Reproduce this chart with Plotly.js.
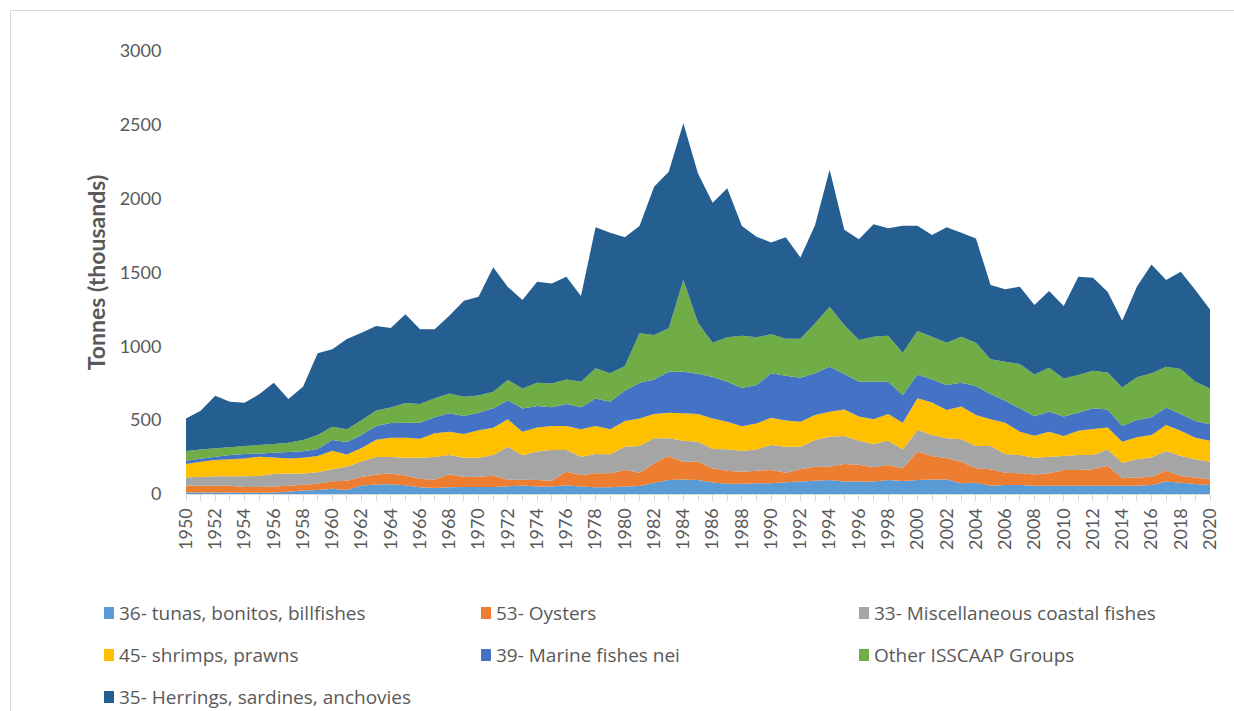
<!DOCTYPE html>
<html>
<head>
<meta charset="utf-8">
<script src="https://cdn.plot.ly/plotly-3.0.1.min.js"></script>
<style>
  html, body { margin: 0; padding: 0; background: #ffffff; }
  #chart { width: 1234px; height: 711px; position: absolute; left: 0; top: 0; }
  #frame { position: absolute; left: 10px; top: 10px; width: 1240px; height: 720px;
           border-left: 1px solid #d9d9d9; border-top: 1px solid #d9d9d9; pointer-events: none; }
</style>
</head>
<body>
<div id="chart"></div>
<div id="frame"></div>
<script>
const years = [];
for (let y = 1950; y <= 2020; y++) years.push(y);

const seriesNames = [
  "36- tunas, bonitos, billfishes",
  "53- Oysters",
  "33- Miscellaneous coastal fishes",
  "45- shrimps, prawns",
  "39- Marine fishes nei",
  "Other ISSCAAP Groups",
  "35- Herrings, sardines, anchovies"
];

const tunas = [
  11,11,11,11,9,9,11,16,23,27,
  36,27,58,64,66,60,45,40,45,47,
  48,48,52,57,50,50,59,50,45,45,
  50,54,77,95,99,95,78,70,70,72,
  72,79,84,90,95,84,84,84,95,88,
  95,99,99,72,77,56,61,61,56,56,
  56,56,56,56,56,56,61,84,77,68,61
];
const oysters = [
  45,45,45,45,38,38,39,40,40,43,
  50,63,57,68,72,66,56,59,88,68,
  69,76,45,40,45,40,92,79,95,95,
  113,90,131,162,120,124,96,87,81,86,
  91,65,83,95,90,119,114,97,101,86,
  192,158,143,147,97,111,83,79,76,84,
  107,107,111,136,50,55,56,74,45,43,38
];
const coastal = [
  57,59,64,64,73,75,85,82,75,77,
  81,95,105,118,112,119,144,151,131,130,
  128,140,223,165,192,208,147,124,131,129,
  157,181,169,120,142,135,131,146,141,144,
  169,176,153,181,203,190,162,158,165,128,
  146,143,135,151,151,158,127,124,113,113,
  94,101,97,110,106,124,131,133,135,124,120
];
const shrimps = [
  90,104,110,115,121,131,113,103,108,110,
  126,83,92,118,131,136,129,161,157,161,
  186,184,186,160,164,162,162,185,189,169,
  174,187,165,174,185,188,207,187,166,176,
  185,177,170,169,169,180,164,167,181,181,
  215,219,192,222,210,181,212,158,149,169,
  136,165,176,149,142,149,151,176,172,146,142
];
const marine = [
  23,20,23,29,30,22,32,43,43,48,
  73,84,88,93,99,102,109,109,125,122,
  120,132,128,157,145,127,149,149,186,187,
  206,242,234,277,282,273,280,270,260,260,
  300,304,298,282,305,240,237,255,219,187,
  162,157,169,162,196,171,149,158,132,135,
  131,122,140,122,106,117,120,118,113,113,111
];
const other = [
  65,63,56,52,54,57,59,63,77,94,
  90,86,100,105,105,133,126,128,135,131,
  116,113,138,136,158,162,167,174,205,192,
  167,334,301,294,621,345,233,301,354,323,
  264,251,264,339,406,331,282,304,311,287,
  294,289,287,311,294,235,264,300,284,298,
  259,255,255,249,262,289,298,277,304,267,243
];
const herrings = [
  221,262,357,309,293,343,415,296,361,554,
  524,612,592,571,539,602,506,467,526,650,
  669,842,630,599,684,677,696,580,955,952,
  871,727,1004,1061,1061,1011,948,1009,743,681,
  623,686,550,664,927,646,682,761,727,860,
  713,689,781,704,706,503,490,524,470,520,
  490,666,630,548,452,614,738,587,659,620,535
];

const seriesValues = [tunas, oysters, coastal, shrimps, marine, other, herrings];
const colors = ["#5B9BD5", "#ED7D31", "#A5A5A5", "#FFC000", "#4472C4", "#70AD47", "#255E91"];

const traces = seriesValues.map((vals, i) => ({
  type: "scatter",
  x: years,
  y: vals,
  name: seriesNames[i],
  stackgroup: "one",
  mode: "none",
  fillcolor: colors[i],
  line: { width: 0 },
  hoverinfo: "skip",
  showlegend: false
}));

// Plot area geometry in pixels
const L = 186, R = 1210, T = 51, B = 494;
const W = 1234, H = 711;
const px = v => (v - L) / (R - L);
const py = v => (B - v) / (B - T);

const legendCols = [104, 481, 859];
const legendRows = [613, 655, 697];
const shapes = [];
const annotations = [];
seriesNames.forEach((name, i) => {
  const col = i % 3, row = Math.floor(i / 3);
  const sx = legendCols[col], sy = legendRows[row];
  shapes.push({
    type: "rect", xref: "paper", yref: "paper",
    x0: px(sx), x1: px(sx + 10), y0: py(sy + 6), y1: py(sy - 6),
    fillcolor: colors[i], line: { width: 0 }
  });
  annotations.push({
    xref: "paper", yref: "paper", x: px(sx + 13), y: py(sy),
    xanchor: "left", yanchor: "middle", showarrow: false,
    text: name, font: { family: "Open Sans, sans-serif", size: 19, color: "#595959" }
  });
});

const layout = {
  width: W, height: H,
  margin: { l: L, r: W - R, t: T, b: H - B, pad: 0 },
  paper_bgcolor: "#ffffff",
  plot_bgcolor: "#ffffff",
  showlegend: false,
  hovermode: false,
  font: { family: "Lato, sans-serif", color: "#595959" },
  xaxis: {
    range: [1950, 2020],
    tick0: 1950, dtick: 2,
    tickangle: -90,
    ticks: "outside", ticklen: 6, tickwidth: 1, tickcolor: "#d9d9d9",
    minor: { dtick: 1, ticks: "outside", ticklen: 6, tickwidth: 1, tickcolor: "#d9d9d9" },
    showline: true, linecolor: "#d9d9d9", linewidth: 1,
    showgrid: false, zeroline: false,
    tickfont: { family: "Lato, sans-serif", size: 18, color: "#595959" },
    fixedrange: true
  },
  yaxis: {
    range: [0, 3000],
    tick0: 0, dtick: 500,
    ticks: "outside", ticklen: 20, tickcolor: "rgba(0,0,0,0)",
    showline: false, showgrid: false, zeroline: false,
    tickfont: { family: "Lato, sans-serif", size: 18, color: "#595959" },
    title: { text: "Tonnes (thousands)", standoff: 7,
             font: { family: "Lato, sans-serif", size: 23, color: "#595959", weight: "bold" } },
    fixedrange: true
  },
  shapes: shapes,
  annotations: annotations
};

Plotly.newPlot("chart", traces, layout, { staticPlot: true, displayModeBar: false });
</script>
</body>
</html>
